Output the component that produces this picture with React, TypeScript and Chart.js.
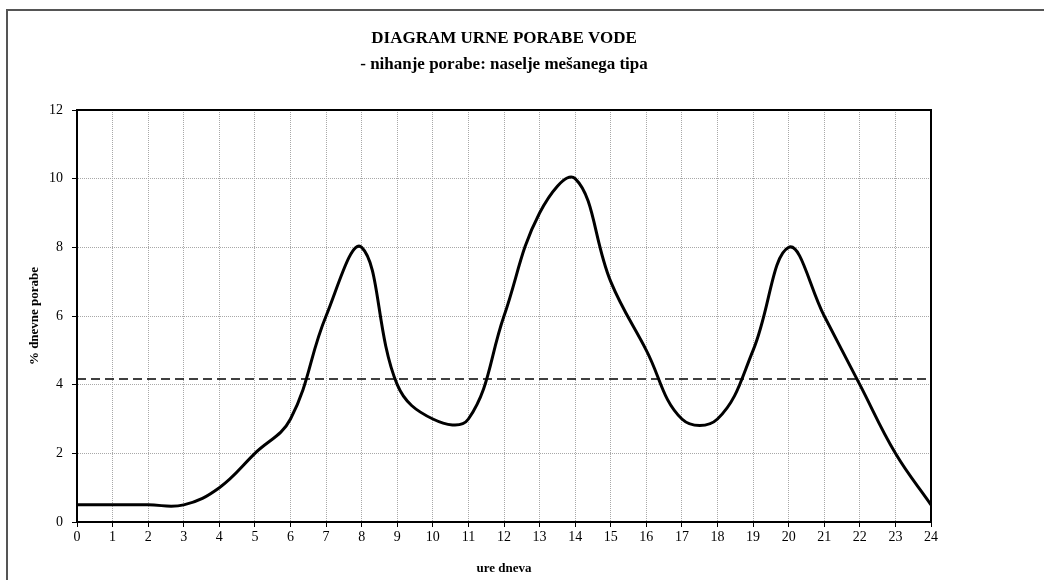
import React, { useEffect, useRef } from "react";
import { Chart, registerables } from "chart.js";

Chart.register(...registerables);

const hours = [0, 1, 2, 3, 4, 5, 6, 7, 8, 9, 10, 11, 12, 13, 14, 15, 16, 17, 18, 19, 20, 21, 22, 23, 24];
const consumption = [0.5, 0.5, 0.5, 0.5, 1, 2, 3, 6, 8, 4, 3, 3, 6, 9, 10, 7, 5, 3, 3, 5, 8, 6, 4, 2, 0.5];
const averageLevel = 100 / 24;
const averageRange = [0, 24];
const titleLines = ["DIAGRAM URNE PORABE VODE", "- nihanje porabe: naselje mešanega tipa"];
const xTitle = "ure dneva";
const yTitle = "% dnevne porabe";

const SERIF = "'Liberation Serif', 'Times New Roman', serif";

const framePlugin = {
  id: "frameAndTitle",
  afterDraw(chart: any) {
    const { ctx, chartArea } = chart;
    ctx.save();
    ctx.setLineDash([]);
    ctx.strokeStyle = "#000";
    ctx.lineWidth = 2;
    ctx.strokeRect(chartArea.left, chartArea.top, chartArea.right - chartArea.left, chartArea.bottom - chartArea.top);
    ctx.fillStyle = "#000";
    ctx.font = `bold 17px ${SERIF}`;
    ctx.textAlign = "center";
    ctx.textBaseline = "middle";
    const cx = (chartArea.left + chartArea.right) / 2;
    ctx.fillText(titleLines[0], cx, 39);
    ctx.fillText(titleLines[1], cx, 65);
    ctx.restore();
  },
};

export default function App() {
  const ref = useRef<HTMLCanvasElement>(null);
  useEffect(() => {
    if (!ref.current) return;
    const chart = new Chart(ref.current, {
      type: "line",
      data: {
        datasets: [
          {
            data: hours.map((h, i) => ({ x: h, y: consumption[i] })),
            borderColor: "#000",
            borderWidth: 3,
            pointRadius: 0,
            tension: 0.4,
            fill: false,
          },
          {
            data: averageRange.map((h) => ({ x: h, y: averageLevel })),
            borderColor: "#000",
            borderWidth: 1.5,
            borderDash: [9, 5],
            pointRadius: 0,
            fill: false,
          },
        ],
      },
      plugins: [framePlugin],
      options: {
        animation: false,
        responsive: false,
        layout: { padding: { top: 110, left: 20, right: 113, bottom: 4 } },
        plugins: { legend: { display: false }, tooltip: { enabled: false }, title: { display: false } },
        scales: {
          x: {
            type: "linear",
            min: 0,
            max: 24,
            ticks: { stepSize: 1, color: "#000", font: { family: SERIF, size: 14 }, padding: 2 },
            grid: { color: "#a8a8a8", lineWidth: 1, tickColor: "#000", tickLength: 5, tickBorderDash: [] },
            border: { display: true, color: "#000", width: 2, dash: [1, 1] },
            title: { display: true, text: xTitle, color: "#000", font: { family: SERIF, size: 13, weight: "bold" }, padding: { top: 6, bottom: 0 } },
            afterFit: (s: any) => { s.height = 54; },
          },
          y: {
            min: 0,
            max: 12,
            ticks: { stepSize: 2, color: "#000", font: { family: SERIF, size: 14 }, padding: 9 },
            grid: { color: "#a8a8a8", lineWidth: 1, tickColor: "#000", tickLength: 5, tickBorderDash: [] },
            border: { display: true, color: "#000", width: 2, dash: [1, 1] },
            title: { display: true, text: yTitle, color: "#000", font: { family: SERIF, size: 13, weight: "bold" }, padding: { top: 7, bottom: 0 } },
            afterFit: (s: any) => { s.width = 57; },
          },
        },
      },
    } as any);
    return () => chart.destroy();
  }, []);
  return (
    <div style={{ position: "absolute", left: 0, top: 0, width: 1044, height: 580, background: "#fff", overflow: "hidden" }}>
      <div style={{ position: "absolute", left: 6, top: 9, width: 1100, height: 700, borderLeft: "2px solid #555", borderTop: "2px solid #555" }} />
      <canvas ref={ref} width={1044} height={580} style={{ position: "absolute", left: 0, top: 0 }} />
    </div>
  );
}
